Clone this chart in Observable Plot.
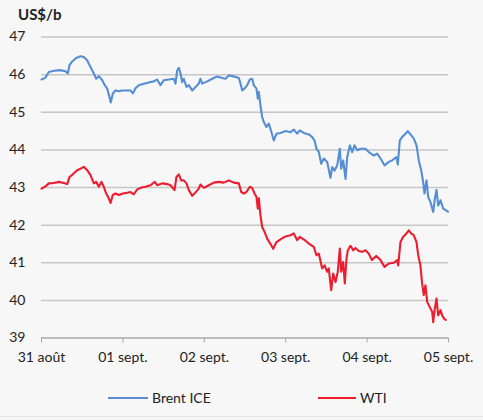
<!DOCTYPE html>
<html>
<head>
<meta charset="utf-8">
<script src="https://cdn.jsdelivr.net/npm/d3@7"></script>
<script src="https://cdn.jsdelivr.net/npm/@observablehq/plot@0.6"></script>
<style>
  html, body { margin: 0; padding: 0; background: #f7f7f7; }
  #wrap { position: relative; width: 483px; height: 420px; background: #f7f7f7; font-family: Lato, "Liberation Sans", sans-serif; color: #222; overflow: hidden; }
  #title { position: absolute; left: 18px; top: 5px; font-size: 15px; font-weight: bold; }
  #chart { position: absolute; left: 0; top: 0; }
  #legend { position: absolute; left: 0; top: 389px; width: 483px; font-size: 14px; }
  .item { position: absolute; display: flex; align-items: center; }
  .sw { display: inline-block; width: 40px; height: 0; border-top: 2px solid; margin-right: 4px; }
  #bottomline { position: absolute; left: 0; top: 416px; width: 483px; height: 0; border-top: 1px solid #e4e4e4; }
</style>
</head>
<body>
<div id="wrap">
  <div id="chart"></div>
  <div id="title">US$/b</div>
  <div id="legend"></div>
  <div id="bottomline"></div>
</div>
<script>
// x values are days since 31 août 00:00
const dayLabels = ["31 août", "01 sept.", "02 sept.", "03 sept.", "04 sept.", "05 sept."];
const yTicks = [39, 40, 41, 42, 43, 44, 45, 46, 47];
const seriesNames = ["Brent ICE", "WTI"];
const seriesColors = ["#558ed5", "#ed1c2e"];

const brentDays = [0,0.049,0.090,0.131,0.172,0.233,0.295,0.323,0.344,0.377,0.426,0.479,0.520,0.561,0.602,0.643,0.672,0.704,0.746,0.778,0.807,0.835,0.851,0.876,0.909,0.950,0.991,1.093,1.122,1.155,1.195,1.257,1.318,1.380,1.421,1.462,1.502,1.564,1.625,1.646,1.667,1.687,1.708,1.728,1.748,1.781,1.810,1.851,1.892,1.932,1.953,1.974,2.036,2.097,2.158,2.220,2.260,2.301,2.343,2.383,2.424,2.445,2.466,2.494,2.527,2.559,2.588,2.608,2.641,2.657,2.670,2.690,2.711,2.731,2.764,2.792,2.813,2.854,2.887,2.936,2.998,3.059,3.100,3.141,3.173,3.222,3.284,3.326,3.354,3.378,3.407,3.436,3.468,3.510,3.550,3.571,3.600,3.633,3.665,3.682,3.706,3.735,3.756,3.788,3.817,3.845,3.878,3.919,3.980,4.021,4.082,4.124,4.165,4.214,4.267,4.308,4.361,4.377,4.402,4.431,4.472,4.500,4.533,4.574,4.607,4.635,4.665,4.689,4.705,4.730,4.751,4.779,4.812,4.832,4.853,4.873,4.902,4.935,4.984,4.994];
const brentValues = [45.87,45.92,46.07,46.09,46.11,46.12,46.09,46.03,46.25,46.35,46.44,46.49,46.47,46.38,46.20,46.03,45.89,45.96,45.85,45.72,45.63,45.40,45.26,45.50,45.58,45.56,45.58,45.58,45.50,45.64,45.72,45.76,45.79,45.82,45.87,45.72,45.85,45.87,45.89,45.76,46.11,46.18,46.03,45.80,45.89,45.67,45.72,45.58,45.67,45.76,45.89,45.76,45.82,45.89,45.95,45.91,45.89,45.98,45.96,45.94,45.91,45.76,45.58,45.63,45.72,45.87,45.89,45.72,45.63,45.36,45.54,45.18,44.87,44.74,44.61,44.70,44.56,44.25,44.43,44.45,44.50,44.47,44.54,44.43,44.52,44.45,44.41,44.34,44.25,44.03,43.94,43.63,43.77,43.68,43.26,43.54,43.45,43.59,44.03,43.50,43.72,43.23,43.81,44.12,43.94,44.12,43.99,44.03,44.03,43.94,43.85,43.90,43.77,43.59,43.68,43.72,43.81,43.61,44.25,44.34,44.43,44.50,44.41,44.30,44.12,43.72,43.45,43.14,42.84,43.19,42.74,42.61,42.35,42.70,42.94,42.52,42.66,42.44,42.37,42.36];

const wtiDays = [0,0.049,0.090,0.151,0.213,0.274,0.316,0.344,0.385,0.439,0.479,0.520,0.561,0.602,0.643,0.672,0.704,0.737,0.765,0.795,0.819,0.848,0.876,0.909,0.950,0.999,1.053,1.093,1.134,1.176,1.229,1.278,1.339,1.392,1.421,1.483,1.544,1.585,1.634,1.658,1.687,1.716,1.748,1.781,1.810,1.851,1.892,1.932,1.953,1.994,2.055,2.117,2.178,2.240,2.301,2.362,2.424,2.453,2.485,2.518,2.559,2.588,2.617,2.641,2.657,2.670,2.690,2.711,2.740,2.773,2.813,2.846,2.887,2.936,2.998,3.059,3.100,3.141,3.173,3.234,3.284,3.345,3.378,3.407,3.448,3.477,3.510,3.529,3.559,3.583,3.612,3.640,3.665,3.682,3.706,3.726,3.747,3.763,3.796,3.829,3.857,3.898,3.938,3.980,4.021,4.059,4.112,4.165,4.214,4.267,4.328,4.370,4.382,4.410,4.443,4.472,4.512,4.541,4.574,4.607,4.628,4.655,4.676,4.696,4.717,4.738,4.770,4.800,4.812,4.832,4.853,4.873,4.902,4.922,4.951,4.967];
const wtiValues = [42.97,43.03,43.11,43.12,43.15,43.12,43.09,43.28,43.35,43.46,43.50,43.55,43.46,43.33,43.11,43.15,43.02,43.15,43.02,42.84,42.75,42.59,42.80,42.84,42.80,42.84,42.86,42.88,42.82,42.95,43.00,43.02,43.06,43.15,43.06,43.11,43.09,43.06,42.93,43.28,43.35,43.19,43.19,43.11,42.93,42.78,42.87,42.97,43.08,42.99,43.06,43.13,43.15,43.13,43.19,43.13,43.11,42.88,42.84,42.88,43.02,42.99,42.84,42.75,42.44,42.71,42.26,41.95,41.82,41.64,41.50,41.37,41.55,41.62,41.70,41.73,41.78,41.60,41.69,41.60,41.51,41.42,41.20,41.24,40.85,40.93,40.76,40.85,40.27,40.71,40.49,40.76,41.38,40.76,41.02,40.45,41.11,41.33,41.45,41.33,41.39,41.31,41.29,41.33,41.24,41.07,41.18,41.07,40.89,40.98,41.00,41.07,40.93,41.55,41.69,41.75,41.86,41.78,41.73,41.55,41.20,40.93,40.45,40.14,40.40,39.96,39.82,39.69,39.42,39.78,40.05,39.60,39.74,39.60,39.50,39.48];

const brent = brentDays.map((d, i) => ({day: d, value: brentValues[i], series: seriesNames[0]}));
const wti = wtiDays.map((d, i) => ({day: d, value: wtiValues[i], series: seriesNames[1]}));

const plot = Plot.plot({
  width: 483,
  height: 382,
  marginTop: 36.5,
  marginBottom: 44.5,
  marginLeft: 41,
  marginRight: 35,
  style: {background: "transparent", fontFamily: "Lato, 'Liberation Sans', sans-serif", fontSize: "14px", color: "#222"},
  x: {domain: [0, 5]},
  y: {domain: [39, 47]},
  marks: [
    Plot.ruleY(yTicks.filter(t => t > 39), {stroke: "#c6c6c6", strokeWidth: 1.5}),
    Plot.ruleY([39], {stroke: "#a8a8a8", strokeWidth: 1.5}),
    Plot.axisY({ticks: yTicks, tickSize: 0, tickPadding: 16, label: null, fill: "#222"}),
    Plot.axisX({ticks: [0, 1, 2, 3, 4, 5], tickFormat: i => dayLabels[i], tickSize: 5, tickPadding: 9, stroke: "#a8a8a8", label: null, fill: "#222"}),
    Plot.line(brent, {x: "day", y: "value", stroke: seriesColors[0], strokeWidth: 2.1, strokeLinejoin: "round"}),
    Plot.line(wti, {x: "day", y: "value", stroke: seriesColors[1], strokeWidth: 2.1, strokeLinejoin: "round"})
  ]
});
document.getElementById("chart").appendChild(plot);

const legend = document.getElementById("legend");
const legendLeft = [108, 318];
seriesNames.forEach((name, i) => {
  const it = document.createElement("div");
  it.className = "item";
  it.style.left = legendLeft[i] + "px";
  const sw = document.createElement("span");
  sw.className = "sw";
  sw.style.borderColor = seriesColors[i];
  if (i === 1) sw.style.width = "38px";
  const t = document.createElement("span");
  t.textContent = name;
  it.appendChild(sw);
  it.appendChild(t);
  legend.appendChild(it);
});
</script>
</body>
</html>
